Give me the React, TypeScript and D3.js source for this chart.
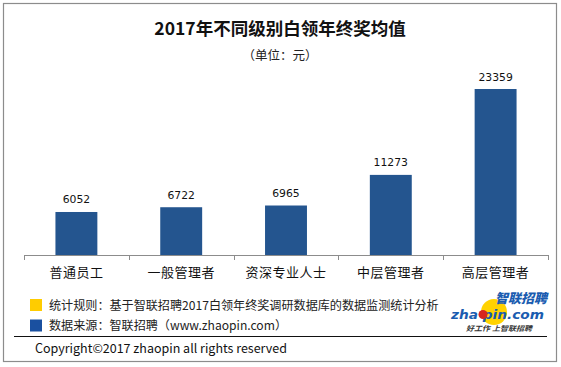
import React, { useEffect, useRef } from 'react';
import * as d3 from 'd3';

const categories = ['普通员工', '一般管理者', '资深专业人士', '中层管理者', '高层管理者'];
const values = [6052, 6722, 6965, 11273, 23359];
const title = '2017年不同级别白领年终奖均值';
const subtitle = '（单位：元）';
const legendColors = ['#FFCC00', '#1A50A0'];
const legendTexts = [
  '统计规则：基于智联招聘2017白领年终奖调研数据库的数据监测统计分析',
  '数据来源：智联招聘（www.zhaopin.com）',
];
const copyright = 'Copyright©2017 zhaopin all rights reserved';

const FONT = '"Noto Sans CJK SC", "Noto Sans", sans-serif';

const App: React.FC = () => {
  const svgRef = useRef<SVGSVGElement>(null);

  useEffect(() => {
    if (!svgRef.current) return;
    const svg = d3.select(svgRef.current);
    svg.selectAll('*').remove();

    const left = 24;
    const right = 548;
    const baseY = 255;

    // frame
    svg.append('rect')
      .attr('x', 3.5).attr('y', 3.5)
      .attr('width', 553).attr('height', 358)
      .attr('fill', 'white')
      .attr('stroke', '#8c8c8c')
      .attr('stroke-width', 1.2);

    svg.append('text')
      .attr('x', 280).attr('y', 35)
      .attr('text-anchor', 'middle')
      .attr('font-family', FONT)
      .attr('font-size', 17.5)
      .attr('font-weight', 700)
      .attr('fill', '#111')
      .text(title);

    svg.append('text')
      .attr('x', 280).attr('y', 59.5)
      .attr('text-anchor', 'middle')
      .attr('font-family', FONT)
      .attr('font-size', 12.5)
      .attr('fill', '#222')
      .text(subtitle);

    const x = d3.scaleBand<string>()
      .domain(categories)
      .range([left, right])
      .paddingInner(0.6)
      .paddingOuter(0.3);

    const y = d3.scaleLinear()
      .domain([0, 23359])
      .range([baseY, 89]);

    svg.selectAll('.bar')
      .data(values)
      .enter()
      .append('rect')
      .attr('x', (_, i) => x(categories[i])!)
      .attr('y', d => y(d))
      .attr('width', x.bandwidth())
      .attr('height', d => baseY - y(d))
      .attr('fill', '#24558F');

    svg.selectAll('.val')
      .data(values)
      .enter()
      .append('text')
      .attr('x', (_, i) => x(categories[i])! + x.bandwidth() / 2)
      .attr('y', d => y(d) - 8.5)
      .attr('text-anchor', 'middle')
      .attr('font-family', '"DejaVu Sans", sans-serif')
      .attr('font-size', 10.8)
      .attr('fill', '#111')
      .text(d => d);

    // axis
    const step = (right - left) / categories.length;
    svg.append('line')
      .attr('x1', left).attr('x2', right)
      .attr('y1', baseY + 0.5).attr('y2', baseY + 0.5)
      .attr('stroke', '#8c8c8c');
    d3.range(categories.length + 1).forEach(i => {
      const tx = Math.round(left + i * step) + 0.5;
      svg.append('line')
        .attr('x1', tx).attr('x2', tx)
        .attr('y1', baseY).attr('y2', baseY + 5)
        .attr('stroke', '#8c8c8c');
    });

    svg.selectAll('.cat')
      .data(categories)
      .enter()
      .append('text')
      .attr('x', d => x(d)! + x.bandwidth() / 2)
      .attr('y', 277)
      .attr('text-anchor', 'middle')
      .attr('font-family', FONT)
      .attr('font-size', 13)
      .attr('letter-spacing', 0.5)
      .attr('fill', '#111')
      .text(d => d);

    // legend
    legendTexts.forEach((t, i) => {
      const ly = 305 + i * 20.5;
      svg.append('rect')
        .attr('x', 30).attr('y', ly - 6)
        .attr('width', 12).attr('height', 12)
        .attr('fill', legendColors[i]);
      svg.append('text')
        .attr('x', 49).attr('y', ly + 4.5)
        .attr('font-family', FONT)
        .attr('font-size', 12.1)
        .attr('fill', '#222')
        .text(t);
    });

    svg.append('line')
      .attr('x1', 14).attr('x2', 547)
      .attr('y1', 336.5).attr('y2', 336.5)
      .attr('stroke', '#111');

    svg.append('text')
      .attr('x', 35).attr('y', 353)
      .attr('font-family', FONT)
      .attr('font-size', 12.5)
      .attr('fill', '#111')
      .text(copyright);

    // logo
    const logo = svg.append('g');
    logo.append('circle').attr('cx', 494).attr('cy', 312).attr('r', 13).attr('fill', '#FFD200');
    logo.append('text')
      .attr('x', 547).attr('y', 303)
      .attr('text-anchor', 'end')
      .attr('font-family', FONT)
      .attr('font-size', 13)
      .attr('font-weight', 900)
      .attr('font-style', 'italic')
      .attr('fill', '#1A5CB0')
      .text('智联招聘');
    logo.append('text')
      .attr('x', 451).attr('y', 319)
      .attr('textLength', 93)
      .attr('lengthAdjust', 'spacingAndGlyphs')
      .attr('font-family', '"DejaVu Sans", sans-serif')
      .attr('font-size', 12)
      .attr('font-weight', 700)
      .attr('font-style', 'italic')
      .attr('fill', '#1A5CB0')
      .text('zha pin.com');
    logo.append('circle').attr('cx', 483).attr('cy', 314.5).attr('r', 4.5).attr('fill', '#D7261E');
    logo.append('text')
      .attr('x', 466).attr('y', 331)
      .attr('textLength', 66)
      .attr('lengthAdjust', 'spacingAndGlyphs')
      .attr('font-family', FONT)
      .attr('font-size', 7)
      .attr('font-weight', 700)
      .attr('font-style', 'italic')
      .attr('fill', '#333')
      .text('好工作  上智联招聘');
  }, []);

  return (
    <svg
      ref={svgRef}
      width={561}
      height={367}
      viewBox="0 0 561 367"
      style={{ position: 'absolute', left: 0, top: 0, background: 'white' }}
    />
  );
};

export default App;
